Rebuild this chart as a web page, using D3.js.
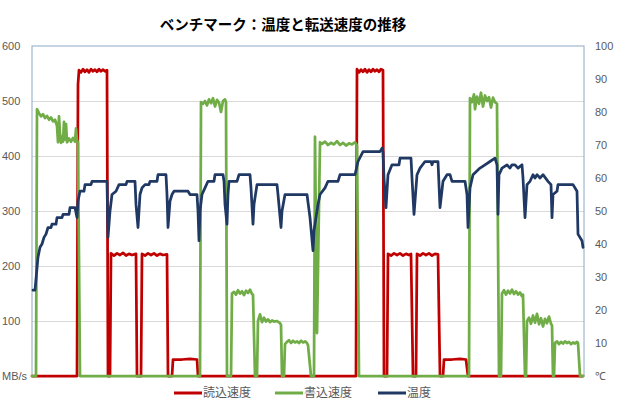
<!DOCTYPE html>
<html>
<head>
<meta charset="utf-8">
<script src="https://cdn.jsdelivr.net/npm/d3@7"></script>
<style>
  body { margin: 0; background: #fff; }
  svg { display: block; }
</style>
</head>
<body>
<div id="chart"></div>
<script>
// readings: [time, value]
const readSpeed = [
  [0,0],[45,0],[46,530],[47,556],[49,552],[51,558],[53,553],[55,557],[57,552],[59,558],[61,554],
  [63,557],[65,553],[67,558],[69,554],[71,557],[73,554],[75,556],[76,0],
  [78,0],[79,223],[82,219],[85,223],[88,220],[91,224],[94,219],[97,222],[100,220],[104,222],[105,0],
  [109,0],[110,222],[113,219],[116,223],[119,220],[122,223],[125,219],[128,222],[131,220],[135,221],[136,0],
  [140,0],[141,30],[150,30],[158,31],[165,30],[166,0],
  [324,0],[325,558],[327,552],[329,557],[331,553],[333,558],[335,552],[337,557],[339,553],
  [341,558],[343,554],[345,557],[347,553],[349,558],[351,556],[352,0],
  [355,0],[356,222],[359,219],[362,223],[365,220],[368,223],[371,219],[374,222],[377,220],[379,222],[381,0],
  [384,0],[385,222],[388,219],[391,223],[394,220],[397,223],[400,219],[403,222],[406,221],[408,0],
  [411,0],[412,30],[420,30],[428,31],[434,30],[436,0],
  [551,0]
];

const writeSpeed = [
  [0,0],[4,0],[5,485],[7,478],[9,472],[11,476],[13,469],[15,473],[17,466],[19,470],[21,463],[23,466],
  [25,455],[26,425],[27,472],[28,440],[29,424],[30,435],[31,426],[32,462],[33,430],[34,458],[35,425],
  [37,432],[39,426],[41,433],[43,426],[44,450],[45,428],[46,424],[48,0],
  [168,0],[169,498],[171,495],[173,500],[175,492],[177,503],[179,496],[181,505],[183,490],[185,502],
  [187,497],[189,480],[191,500],[193,503],[194,498],[195,0],
  [199,0],[200,150],[202,153],[204,148],[206,156],[208,150],[210,154],[212,147],[214,155],[216,151],
  [218,157],[220,149],[221,148],[223,0],
  [225,0],[226,100],[228,112],[230,98],[232,106],[234,99],[236,103],[238,98],[240,101],[242,99],
  [245,100],[248,96],[249,93],[250,0],
  [252,0],[253,58],[255,62],[257,65],[259,60],[261,64],[263,61],[265,63],[267,60],[269,64],[271,61],
  [273,63],[275,60],[276,56],[279,0],
  [282,0],[283,435],[285,78],[288,425],[290,422],[293,426],[296,420],[299,424],[302,421],[305,427],
  [308,420],[311,424],[314,419],[317,423],[320,421],[323,425],[325,419],[327,0],
  [437,0],[438,505],[440,498],[442,512],[443,485],[445,508],[447,495],[449,515],[451,490],[453,510],
  [455,500],[457,507],[459,488],[461,506],[463,498],[465,495],[467,0],
  [469,0],[470,150],[472,156],[474,148],[476,155],[478,150],[480,157],[482,149],[484,154],[486,148],
  [488,152],[490,145],[491,148],[493,0],
  [494,0],[495,100],[497,106],[499,95],[501,110],[503,97],[505,113],[507,94],[509,105],[511,90],
  [513,104],[515,96],[517,108],[519,95],[520,92],[521,0],
  [522,0],[523,60],[525,63],[527,58],[529,62],[531,59],[533,63],[535,60],[537,62],[539,58],[541,61],
  [543,59],[545,62],[546,60],[548,0],[551,0]
];

const temperature = [
  [1,26],[3,26],[6,36],[8,39],[10,40],[12,42],[14,43],[16,45],[19,45],[20,46],[24,46],[25,48],[30,48],
  [31,49],[37,49],[38,51],[43,51],[45,48],[46,53],[48,56],[52,56],[53,58],[59,58],[60,59],[75,59],
  [76,42],[78,50],[80,55],[84,56],[87,58],[94,58],[95,59],[103,59],[104,52],[106,45],[108,55],[110,57],
  [113,58],[117,58],[118,59],[125,59],[126,61],[134,61],[135,55],[136,45],[138,53],[140,55],[142,56],
  [156,56],[158,55],[165,55],[166,50],[167,41],[168,50],[170,55],[173,57],[176,59],[182,59],[183,61],
  [191,61],[192,59],[193,52],[195,46],[196,55],[197,59],[205,59],[207,61],[218,61],[219,57],[221,46],
  [222,52],[225,58],[245,58],[246,55],[249,45],[250,50],[253,55],[275,55],[278,48],[281,38],[282,44],
  [284,48],[286,52],[288,55],[293,57],[296,59],[306,59],[308,61],[323,61],[326,65],[331,68],[348,68],
  [350,69],[351,68],[352,60],[354,51],[356,61],[360,64],[367,64],[368,66],[379,66],[380,60],[382,49],
  [385,61],[388,63],[393,65],[399,65],[400,64],[401,65],[406,65],[407,58],[408,51],[411,59],[415,61],
  [418,61],[420,59],[433,59],[435,55],[436,45],[438,57],[441,61],[448,63],[453,64],[458,65],[463,66],
  [465,64],[466,49],[467,61],[470,63],[475,64],[478,63],[480,64],[483,64],[486,63],[490,64],[491,60],
  [493,48],[495,58],[498,59],[501,61],[503,60],[505,61],[508,60],[511,61],[516,59],[519,58],[520,48],
  [521,55],[525,56],[526,58],[541,58],[545,56],[546,43],[550,41],[551,39]
];

const leftTicks = [0, 100, 200, 300, 400, 500, 600];
const leftLabels = ["MB/s", "100", "200", "300", "400", "500", "600"];
const rightTicks = [0, 10, 20, 30, 40, 50, 60, 70, 80, 90, 100];
const rightLabels = ["\u2103", "10", "20", "30", "40", "50", "60", "70", "80", "90", "100"];
const seriesNames = ["読込速度", "書込速度", "温度"];
const seriesColors = ["#c00000", "#70ad47", "#1f3864"];

const width = 620, height = 410;
const plot = {left: 32, right: 584, top: 46, bottom: 376};
const font = "'Liberation Sans', Arial, sans-serif";
const jp = "'Noto Sans CJK JP', sans-serif";

const svg = d3.select('#chart').append('svg')
    .attr('width', width)
    .attr('height', height);

const x = d3.scaleLinear().domain([0, 552]).range([plot.left, plot.right]);
const yL = d3.scaleLinear().domain([0, 600]).range([plot.bottom, plot.top]);
const yR = d3.scaleLinear().domain([0, 100]).range([plot.bottom, plot.top]);

// title
svg.append('text')
    .attr('x', 283).attr('y', 30)
    .attr('text-anchor', 'middle')
    .style('font-family', jp)
    .style('font-weight', 'bold')
    .style('font-size', '14.5px')
    .attr('fill', '#000')
    .text('ベンチマーク：温度と転送速度の推移');

// gridlines
svg.append('g')
    .attr('transform', `translate(${plot.left},0)`)
    .call(d3.axisLeft(yL).tickValues([100, 200, 300, 400, 500]).tickSize(-(plot.right - plot.left)).tickFormat(''))
    .call(g => g.select('.domain').remove())
    .call(g => g.selectAll('line').attr('stroke', '#d9d9d9'));

// plot border
svg.append('rect')
    .attr('x', plot.left).attr('y', plot.top)
    .attr('width', plot.right - plot.left).attr('height', plot.bottom - plot.top)
    .attr('fill', 'none')
    .attr('stroke', '#8eaac4')
    .attr('stroke-width', 1);

// left axis
svg.append('g')
    .call(d3.axisLeft(yL).tickValues(leftTicks).tickSize(0).tickFormat((d, i) => leftLabels[i]))
    .call(g => g.select('.domain').remove())
    .call(g => g.selectAll('text')
        .attr('x', 2).attr('text-anchor', 'start')
        .attr('fill', '#595959')
        .style('font-family', font).style('font-size', '11px'));

// right axis
svg.append('g')
    .attr('transform', `translate(595,0)`)
    .call(d3.axisRight(yR).tickValues(rightTicks).tickSize(0).tickPadding(0).tickFormat((d, i) => rightLabels[i]))
    .call(g => g.select('.domain').remove())
    .call(g => g.selectAll('text')
        .attr('fill', '#595959')
        .style('font-family', font).style('font-size', '11px'));

const lineL = d3.line().x(d => x(d[0])).y(d => yL(d[1]));
const lineR = d3.line().x(d => x(d[0])).y(d => yR(d[1]));

const series = [
  {data: readSpeed, line: lineL},
  {data: writeSpeed, line: lineL},
  {data: temperature, line: lineR}
];

svg.append('g').selectAll('path')
    .data(series)
    .join('path')
    .attr('d', d => d.line(d.data))
    .attr('fill', 'none')
    .attr('stroke', (d, i) => seriesColors[i])
    .attr('stroke-width', 2.75)
    .attr('stroke-linejoin', 'round')
    .attr('stroke-linecap', 'round');

// legend
const legendX = [174, 275, 378];
const legend = svg.append('g').selectAll('g')
    .data(seriesNames)
    .join('g')
    .attr('transform', (d, i) => `translate(${legendX[i]},393)`);

legend.append('line')
    .attr('x1', 0).attr('x2', 28)
    .attr('stroke', (d, i) => seriesColors[i])
    .attr('stroke-width', 3);

legend.append('text')
    .attr('x', 29).attr('dy', '0.35em')
    .attr('fill', '#595959')
    .style('font-family', jp).style('font-size', '12px')
    .text(d => d);
</script>
</body>
</html>
